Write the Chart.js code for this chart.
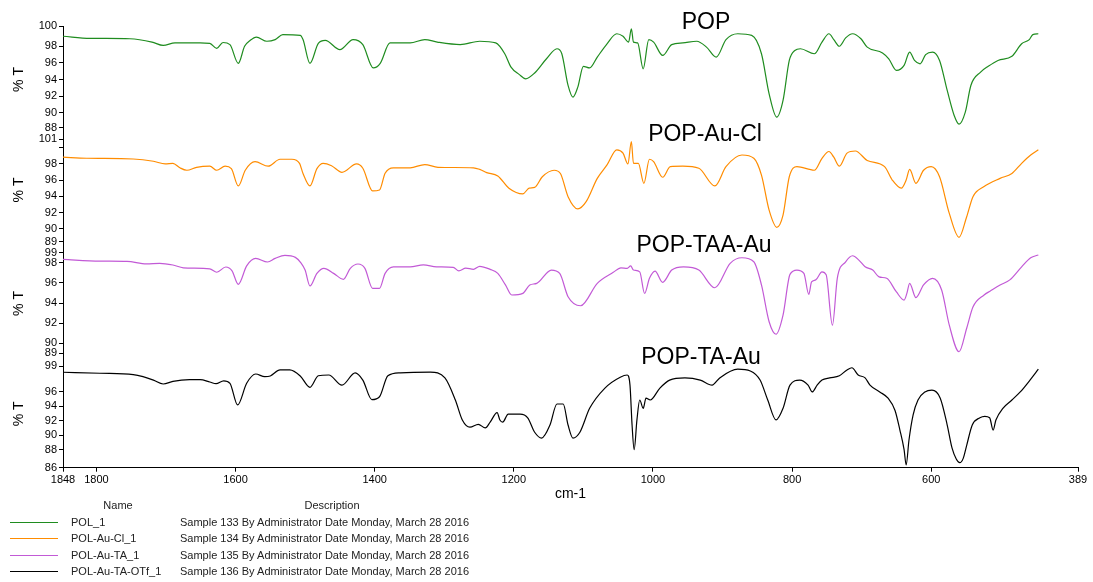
<!DOCTYPE html>
<html>
<head>
<meta charset="utf-8">
<script src="https://cdn.jsdelivr.net/npm/chart.js@4.4.1/dist/chart.umd.min.js"></script>
<style>
  body { margin: 0; background: #fff; font-family: "Liberation Sans", Arial, sans-serif; }
  #wrap { position: relative; width: 1093px; height: 582px; overflow: hidden; }
  #irChart { position: absolute; left: 0; top: 0; }
  .lg { position: absolute; font-size: 11px; line-height: 13px; color: #222; white-space: nowrap; }
  .swatch { position: absolute; left: 10px; width: 48px; height: 1px; }
</style>
</head>
<body>
<div id="wrap">
  <canvas id="irChart" width="1093" height="582"></canvas>
  <div id="legend"></div>
</div>
<script>
// wavenumber (cm-1) / %T, high to low wavenumber
const wnPOP = [1848,1809,1752,1720,1704,1687,1651,1637,1627,1618,1608,1596,1587,1579,1570,1555,1543,1532,1507,1503,1493,1481,1471,1450,1431,1417,1402,1392,1378,1349,1328,1310,1277,1249,1226,1213,1204,1192,1183,1170,1153,1138,1131,1122,1115,1108,1100,1091,1080,1066,1052,1043,1035,1031,1028,1022,1014,1006,999,986,973,957,937,923,909,895,878,858,844,833,822,813,804,796,788,768,757,747,740,732,723,713,701,692,670,661,650,639,631,624,616,608,598,588,577,567,560,551,543,529,518,504,484,470,459,454,446];
const tPOP = [99.2,98.95,98.9,98.5,98.1,98.4,98.4,98.35,97.75,98.45,98.2,95.95,98.0,98.7,99.1,98.6,98.8,99.4,99.3,98.8,95.95,98.35,98.7,97.6,98.8,98.2,95.4,95.95,98.4,98.4,98.8,98.5,98.2,98.6,98.4,97.1,95.5,94.6,94.1,94.8,96.5,97.7,97.1,93.3,91.9,93.1,95.6,95.4,96.7,98.3,99.5,99.2,98.5,100.1,98.5,98.4,95.3,98.8,98.5,96.9,98.2,98.4,98.6,97.9,96.7,98.8,99.5,99.3,97.1,92.3,89.5,91.5,96.3,97.5,97.7,97.1,98.5,99.5,98.8,98.0,99.0,99.5,98.9,97.9,97.2,96.5,95.1,95.7,97.3,96.3,95.9,97.0,97.3,96.3,92.7,89.7,88.66,90.1,93.3,94.9,95.6,96.3,96.8,98.3,98.8,99.4,99.5];

const wnAuCl = [1848,1814,1747,1718,1701,1690,1680,1670,1656,1637,1627,1615,1606,1596,1586,1572,1553,1536,1519,1508,1503,1493,1483,1474,1462,1447,1426,1417,1403,1393,1385,1373,1349,1328,1309,1258,1249,1239,1223,1207,1187,1178,1170,1159,1142,1133,1122,1108,1096,1080,1066,1052,1043,1036,1031,1028,1021,1013,1005,999,986,975,957,934,911,895,872,855,844,833,822,813,804,793,768,757,747,740,732,721,709,692,667,656,643,636,631,622,611,600,588,574,560,549,540,524,501,484,470,457,446];
const tAuCl = [98.8,98.67,98.58,98.3,97.97,98.05,97.5,97.2,97.56,97.7,97.2,97.7,97.4,95.27,97.2,98.25,97.7,98.55,98.55,98.05,96.8,95.27,97.4,98.05,97.76,96.95,97.97,97.44,94.66,94.78,96.83,97.5,97.5,97.9,97.56,97.5,97.3,96.9,96.5,95.0,94.3,95.0,95.1,96.4,97.2,96.8,93.96,92.45,93.34,96.2,97.85,99.7,99.3,97.97,100.7,98.05,98.05,95.6,98.55,98.25,96.34,97.64,97.7,97.44,95.27,97.64,99.07,98.67,96.6,92.3,90.2,91.7,96.4,97.64,97.2,98.67,99.5,98.8,97.7,99.3,99.56,98.4,97.64,96.0,95.0,96.0,97.3,95.6,97.2,97.64,96.4,91.9,88.97,91.5,93.96,95.2,96.2,96.8,98.05,99.07,99.7];

const wnTAA = [1848,1795,1756,1728,1709,1690,1675,1637,1627,1614,1605,1596,1584,1571,1554,1543,1529,1514,1506,1500,1493,1483,1473,1459,1445,1435,1424,1414,1403,1393,1385,1373,1349,1330,1311,1287,1279,1269,1258,1249,1234,1223,1212,1203,1187,1177,1167,1146,1134,1122,1104,1080,1057,1046,1037,1032,1028,1019,1012,1005,997,986,973,956,934,911,889,872,855,844,833,823,813,803,793,783,776,772,766,757,751,742,735,723,713,704,695,684,675,664,650,639,635,631,622,611,598,585,574,560,549,540,524,515,501,487,470,457,446];
const tTAA = [98.34,98.17,98.14,97.9,97.95,97.78,97.5,97.4,97.06,97.58,97.2,95.86,97.7,98.44,98.08,98.44,98.74,98.54,98.0,97.28,95.7,96.95,97.45,96.95,96.36,97.45,97.88,97.45,95.46,95.46,96.95,97.6,97.6,97.8,97.6,97.55,97.2,97.48,97.35,97.65,97.35,96.95,95.8,94.8,94.96,95.8,95.96,97.28,96.95,94.63,93.73,95.96,97.05,97.5,97.45,97.7,97.28,97.1,94.96,96.46,97.18,96.06,97.28,97.6,97.28,95.52,97.95,98.5,98.1,95.8,92.14,90.9,92.8,96.85,97.28,96.95,94.86,96.1,96.3,97.1,96.8,91.8,96.46,98.1,98.7,98.27,97.6,97.28,96.6,96.46,95.1,94.3,94.96,95.96,94.53,95.8,96.46,95.3,91.8,89.16,91.5,93.6,94.8,95.2,95.8,96.3,97.6,98.5,98.77];

const wnTA = [1848,1795,1747,1733,1718,1704,1690,1666,1651,1637,1628,1617,1608,1597,1584,1571,1558,1550,1536,1522,1507,1493,1481,1466,1447,1428,1417,1404,1393,1381,1363,1320,1299,1284,1274,1263,1251,1241,1234,1224,1220,1216,1208,1191,1180,1170,1160,1148,1138,1129,1122,1115,1105,1091,1069,1047,1037,1033,1030,1027,1023,1019,1014,1010,1004,990,976,954,932,915,904,878,860,846,835,823,813,803,789,777,771,764,757,746,732,721,714,705,695,688,674,662,652,645,639,636,632,626,619,609,599,587,577,570,564,559,554,549,541,530,523,516,511,507,497,484,472,458,446];
const tTA = [98.68,98.54,98.35,98.07,97.6,97.06,97.43,97.66,97.66,97.34,97.1,97.5,97.16,94.17,97.16,98.44,98.07,98.17,99.0,99.0,98.17,96.6,98.2,98.3,96.9,98.6,97.6,94.9,95.3,98.2,98.6,98.7,97.9,94.85,92.1,91.1,91.5,91.0,91.8,93.1,92.1,91.8,92.9,92.9,92.4,90.4,89.6,91.4,94.3,94.3,91.4,89.6,90.4,93.7,96.5,98.0,98.3,96.9,91.4,88.0,92.1,94.85,93.7,95.1,94.85,96.5,97.6,97.9,97.6,96.9,97.9,99.1,98.85,97.6,94.85,92.1,93.7,96.9,97.6,96.9,95.96,96.9,97.6,97.9,98.2,99.0,99.3,98.3,97.9,96.9,95.96,95.1,93.4,90.7,88.0,85.9,89.3,92.8,94.85,95.96,96.2,95.1,91.4,88.2,86.7,86.2,86.8,88.6,91.4,92.4,92.6,92.4,90.7,92.1,93.7,94.85,95.96,97.6,99.1];

const panelTitles = ['POP', 'POP-Au-Cl', 'POP-TAA-Au', 'POP-TA-Au'];
const sampleNames = ['POL_1', 'POL-Au-Cl_1', 'POL-Au-TA_1', 'POL-Au-TA-OTf_1'];
const sampleDesc = [
  'Sample 133 By Administrator Date Monday, March 28 2016',
  'Sample 134 By Administrator Date Monday, March 28 2016',
  'Sample 135 By Administrator Date Monday, March 28 2016',
  'Sample 136 By Administrator Date Monday, March 28 2016'
];

const xTickValues = [1848, 1800, 1600, 1400, 1200, 1000, 800, 600, 389];
const yTickValues = [
  [100.43, 98, 96, 94, 92, 90, 88.24],
  [101, 100, 98, 96, 94, 92, 90, 88.44],
  [99, 98, 96, 94, 92, 90, 89],
  [99.54, 96, 94, 92, 90, 88, 85.5]
];
const yTickLabels = [
  ['100', '98', '96', '94', '92', '90', '88'],
  ['101', '', '98', '96', '94', '92', '90', '89'],
  ['99', '98', '96', '94', '92', '90', '89'],
  ['99', '96', '94', '92', '90', '88', '86']
];
const yMin = [87.6, 87.78, 88.34, 85.51];
const yMax = [100.43, 101.77, 99.57, 100.37];

// layout / style
const FONT = '"Liberation Sans", Arial, sans-serif';
const colors = ['#1f8c1f', '#ff8c00', '#c25ad6', '#000000'];
const panelIds = ['yPOP', 'yAuCl', 'yTAA', 'yTA'];
const panelHeights = [107, 114, 113, 107.7];
const titleX = [706, 705, 704, 701];
const titleDy = [-3, 2, -1.5, -2.5];

const series = [[wnPOP, tPOP], [wnAuCl, tAuCl], [wnTAA, tTAA], [wnTA, tTA]];

const datasets = series.map((s, i) => ({
  label: sampleNames[i],
  data: s[0].map((w, k) => ({ x: w, y: s[1][k] })),
  xAxisID: 'x',
  yAxisID: panelIds[i],
  borderColor: colors[i],
  borderWidth: 1.2,
  pointRadius: 0,
  fill: false,
  cubicInterpolationMode: 'monotone'
}));

const scales = {
  x: {
    type: 'linear',
    position: 'bottom',
    reverse: true,
    min: 389,
    max: 1848,
    afterBuildTicks: axis => { axis.ticks = xTickValues.map(v => ({ value: v })); },
    afterFit: axis => { axis.height = 40; },
    ticks: { autoSkip: false, maxRotation: 0, padding: 2, color: '#000', font: { family: FONT, size: 11 }, callback: v => String(v) },
    grid: { drawOnChartArea: false, tickLength: 4, color: '#000' },
    border: { display: true, color: '#000', width: 1 },
    title: { display: true, text: 'cm-1', color: '#000', font: { family: FONT, size: 14 }, padding: { top: 0, bottom: 5 } }
  }
};

// stacked left axes: defined bottom panel first, top panel last
[3, 2, 1, 0].forEach(i => {
  scales[panelIds[i]] = {
    type: 'linear',
    position: 'left',
    stack: 'ir',
    stackWeight: panelHeights[i],
    weight: 4 - i,
    min: yMin[i],
    max: yMax[i],
    afterBuildTicks: axis => { axis.ticks = yTickValues[i].map(v => ({ value: v })); },
    afterFit: axis => { axis.width = 63; },
    ticks: { autoSkip: false, padding: 2, color: '#000', font: { family: FONT, size: 11 }, callback: (v, k) => yTickLabels[i][k] },
    grid: { drawOnChartArea: false, tickLength: 4, color: '#000' },
    border: { display: true, color: '#000', width: 1 },
    title: { display: true, text: '% T', color: '#000', font: { family: FONT, size: 14 }, padding: { top: 10.5, bottom: 0 } }
  };
});

const panelTitlePlugin = {
  id: 'panelTitles',
  afterDraw(chart) {
    const ctx = chart.ctx;
    ctx.save();
    ctx.font = '23px ' + FONT;
    ctx.fillStyle = '#000';
    ctx.textAlign = 'center';
    ctx.textBaseline = 'middle';
    panelIds.forEach((id, i) => {
      const s = chart.scales[id];
      ctx.fillText(panelTitles[i], titleX[i], s.top + titleDy[i]);
    });
    ctx.restore();
  }
};

new Chart(document.getElementById('irChart').getContext('2d'), {
  type: 'line',
  data: { datasets: datasets },
  options: {
    responsive: false,
    animation: false,
    devicePixelRatio: 1,
    layout: { padding: { top: 26, right: 15, bottom: 74.3, left: 0 } },
    plugins: { legend: { display: false }, tooltip: { enabled: false } },
    scales: scales
  },
  plugins: [panelTitlePlugin]
});

// sample table under the plot
const legendEl = document.getElementById('legend');
const rowY = [522, 538, 555, 571];
let html = '<div class="lg" style="left:118px;top:499px;transform:translateX(-50%)">Name</div>' +
           '<div class="lg" style="left:332px;top:499px;transform:translateX(-50%)">Description</div>';
sampleNames.forEach((name, i) => {
  html += '<div class="swatch" style="top:' + rowY[i] + 'px;background:' + colors[i] + '"></div>';
  html += '<div class="lg" style="left:71px;top:' + (rowY[i] - 6) + 'px">' + name + '</div>';
  html += '<div class="lg" style="left:180px;top:' + (rowY[i] - 6) + 'px">' + sampleDesc[i] + '</div>';
});
legendEl.innerHTML = html;
</script>
</body>
</html>
